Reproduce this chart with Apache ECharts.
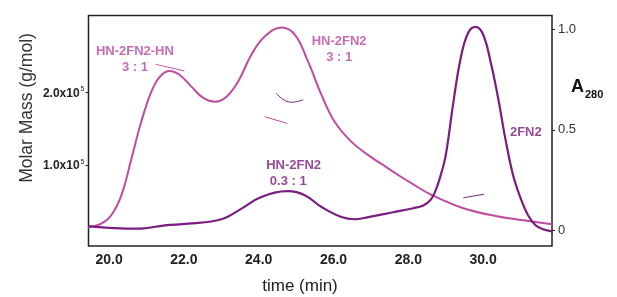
<!DOCTYPE html>
<html>
<head>
<meta charset="utf-8">
<script src="https://cdn.jsdelivr.net/npm/echarts@6/dist/echarts.min.js"></script>
<style>
  html, body { margin: 0; padding: 0; background: #fff; }
  #chart { width: 617px; height: 297px; }
</style>
</head>
<body>
<div id="chart"></div>
<script>
// A280 traces (right axis), time in min
const pinkTime = [19.44, 19.79, 20.06, 20.33, 20.60, 20.86, 21.13, 21.36, 21.62, 21.89, 22.20, 22.51, 22.83, 23.14, 23.45, 23.80, 24.16, 24.61, 24.97, 25.32, 25.68, 26.03, 26.48, 26.93, 27.25, 27.78, 28.13, 28.58, 29.47, 30.37, 31.26, 31.84]
const pinkA280 = [0.016, 0.033, 0.075, 0.175, 0.358, 0.540, 0.690, 0.765, 0.793, 0.773, 0.715, 0.660, 0.640, 0.665, 0.740, 0.873, 0.964, 1.009, 0.973, 0.839, 0.673, 0.540, 0.440, 0.374, 0.334, 0.269, 0.229, 0.180, 0.110, 0.070, 0.045, 0.030]

const darkTime = [19.44, 20.15, 20.78, 21.49, 22.11, 23.00, 23.54, 24.07, 24.79, 25.23, 25.68, 26.21, 26.57, 26.93, 27.59, 28.13, 28.40, 28.58, 28.7, 28.85, 29.0, 29.2, 29.4, 29.6, 29.8, 30.0, 30.2, 30.4, 30.6, 30.8, 31.0, 31.2, 31.4, 31.6, 31.84]
const darkA280 = [0.021, 0.011, 0.008, 0.025, 0.033, 0.055, 0.108, 0.166, 0.195, 0.175, 0.116, 0.066, 0.055, 0.066, 0.090, 0.110, 0.124, 0.148, 0.185, 0.265, 0.374, 0.633, 0.858, 0.983, 1.012, 0.973, 0.838, 0.658, 0.449, 0.274, 0.160, 0.075, 0.025, 0.005, -0.005]

// molar mass segments (left axis, g/mol)
const massPeak1Time = [21.25, 22.01]
const massPeak1 = [239000, 230000]
const massPeak2Time = [24.47, 24.87, 25.19]
const massPeak2 = [199200, 186800, 190000]
const massMidTime = [24.16, 24.76]
const massMid = [166800, 157600]
const mass2fn2Time = [29.47, 30.03]
const mass2fn2 = [54900, 59900]

const xTicks = [20, 22, 24, 26, 28, 30]
const a280Ticks = [0, 0.5, 1]
const massTicks = [100000, 200000]

const labelNames = ['HN-2FN2-HN\n3 : 1', 'HN-2FN2\n3 : 1', 'HN-2FN2\n 0.3 : 1', '2FN2']
const labelTime = [20.69, 26.15, 24.20, 31.14]
const labelA280 = [0.848, 0.898, 0.284, 0.487]

const PINK = '#c04ca2'
const DARK = '#7a1d80'

const zip = (xs, ys) => xs.map((x, i) => [x, ys[i]])

const chart = echarts.init(document.getElementById('chart'))

function segment(xs, ys, color) {
  return {
    type: 'line', yAxisIndex: 1, data: zip(xs, ys), smooth: true, symbol: 'none', silent: true,
    lineStyle: { color: color, width: 1 }
  }
}

chart.setOption({
  animation: false,
  grid: { left: 88.5, right: 65, top: 15.5, bottom: 51, show: true, borderColor: '#222', borderWidth: 1.5 },
  xAxis: {
    type: 'value', min: 19.45, max: 31.84,
    axisLine: { show: false },
    axisTick: { show: false },
    splitLine: { show: false },
    axisLabel: {
      customValues: xTicks, margin: 7,
      formatter: v => v.toFixed(1),
      color: '#222', fontSize: 14, fontWeight: 'bold', fontFamily: 'Liberation Sans'
    }
  },
  yAxis: [
    {
      type: 'value', position: 'right', min: -0.078, max: 1.069,
      axisLine: { show: false },
      splitLine: { show: false },
      axisTick: { customValues: a280Ticks, length: 3, lineStyle: { color: '#222' } },
      axisLabel: {
        customValues: a280Ticks, margin: 6,
        formatter: v => v === 0 ? '0' : v.toFixed(1),
        color: '#333', fontSize: 13, fontFamily: 'Liberation Sans'
      }
    },
    {
      type: 'value', position: 'left', min: -11600, max: 306500,
      axisLine: { show: false },
      splitLine: { show: false },
      axisTick: { customValues: massTicks, length: 3, lineStyle: { color: '#222' } },
      axisLabel: {
        customValues: massTicks, margin: 4,
        formatter: v => '{m|' + (v / 1e5).toFixed(1) + 'x10}{e|5}',
        rich: {
          m: { fontSize: 12, fontWeight: 'bold', color: '#222', fontFamily: 'Liberation Sans', lineHeight: 14, verticalAlign: 'bottom' },
          e: { fontSize: 7, color: '#222', fontFamily: 'Liberation Sans', lineHeight: 14, verticalAlign: 'top', padding: [0, 0, 0, 1] }
        }
      }
    }
  ],
  graphic: [
    {
      type: 'text', x: 27, y: 108, rotation: Math.PI / 2,
      style: { text: 'Molar Mass (g/mol)', fill: '#333', fontSize: 17.5, fontFamily: 'Liberation Sans', align: 'center', verticalAlign: 'middle' }
    },
    {
      type: 'text', x: 300, y: 286,
      style: { text: 'time (min)', fill: '#222', fontSize: 17, fontFamily: 'Liberation Sans', align: 'center', verticalAlign: 'middle' }
    },
    {
      type: 'text', x: 571, y: 89,
      style: {
        text: '{a|A}{s|280}', align: 'left', verticalAlign: 'middle',
        rich: {
          a: { fontSize: 18, fontWeight: 'bold', fill: '#111', fontFamily: 'Liberation Sans', lineHeight: 22, verticalAlign: 'top' },
          s: { fontSize: 11, fontWeight: 'bold', fill: '#111', fontFamily: 'Liberation Sans', lineHeight: 22, verticalAlign: 'bottom', padding: [0, 0, 0, 1] }
        }
      }
    }
  ],
  series: [
    {
      type: 'line', data: zip(pinkTime, pinkA280), smooth: 0.4, symbol: 'none', silent: true,
      lineStyle: { color: PINK, width: 2 }
    },
    {
      type: 'line', data: zip(darkTime, darkA280), smooth: 0.4, symbol: 'none', silent: true,
      lineStyle: { color: DARK, width: 2.2 }
    },
    segment(massPeak1Time, massPeak1, PINK),
    segment(massPeak2Time, massPeak2, DARK),
    segment(massMidTime, massMid, PINK),
    segment(mass2fn2Time, mass2fn2, DARK),
    {
      type: 'scatter', symbolSize: 0, silent: true,
      data: labelNames.map((n, i) => ({
        name: n, value: [labelTime[i], labelA280[i]],
        label: { color: i < 2 ? '#b9479f' : DARK, align: i === 2 ? 'left' : 'center' }
      })),
      label: {
        show: true, position: 'inside', formatter: p => p.name,
        fontSize: 13, fontWeight: 'bold', fontFamily: 'Liberation Sans', lineHeight: 16
      }
    }
  ]
})
</script>
</body>
</html>
